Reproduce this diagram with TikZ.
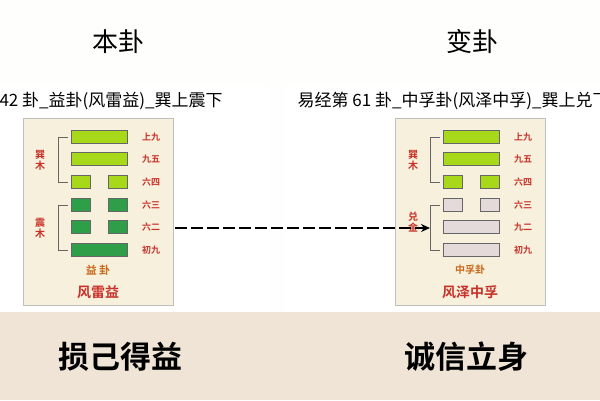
\documentclass[tikz,border=0pt]{standalone}
\usepackage{fontspec}
\newfontfamily\cjk{Noto Sans CJK SC}[BoldFont={Noto Sans CJK SC Bold}]
\newcommand\cjkb{\cjk\bfseries}
\usetikzlibrary{arrows.meta}
\definecolor{paper}{HTML}{EFE4D6}
\definecolor{card}{HTML}{F7F0DC}
\definecolor{lime}{HTML}{A8D81A}
\definecolor{leaf}{HTML}{2E9E48}
\definecolor{pale}{HTML}{E4DADA}
\definecolor{redtxt}{HTML}{C8322A}
\definecolor{browntxt}{HTML}{C86A1E}
\tikzset{
  yao/.style={draw=black!60,line width=0.6pt},
  yaolbl/.style={text=redtxt,font=\cjkb\fontsize{9}{9}\selectfont},
  sidelbl/.style={text=redtxt,font=\cjkb\fontsize{10}{11}\selectfont,align=center},
  bigtitle/.style={font=\cjk\fontsize{26}{26}\selectfont},
  caption/.style={font=\cjk\fontsize{17}{17}\selectfont,anchor=west},
  motto/.style={font=\cjkb\fontsize{31}{31}\selectfont}
}
% draw one hexagram: #1 = x of card left, #2 = list of line/colour
\newcommand\guaCard[2]{%
  \fill[card,draw=black!25] (#1,118) rectangle ++(150,187);
  \foreach \yy/\kind/\col/\lbl in {#2} {
    \ifnum\kind=1
      \fill[\col,yao] (#1+48,\yy-6.5) rectangle ++(56,13);
    \else
      \fill[\col,yao] (#1+48,\yy-6.5) rectangle ++(19,13);
      \fill[\col,yao] (#1+85,\yy-6.5) rectangle ++(19,13);
    \fi
    \node[yaolbl] at (#1+128,\yy) {\lbl};
  }
  \draw[black!60] (#1+45,137) -| (#1+35,182) -- (#1+45,182);
  \draw[black!60] (#1+45,205) -| (#1+35,250) -- (#1+45,250);
}
\begin{document}
\begin{tikzpicture}[x=1pt,y=-1pt]
\useasboundingbox (0,0) rectangle (600,400);
\fill[paper] (0,0) rectangle (600,400);
\fill[white!96!paper] (0,0) rectangle (600,85);
\fill[white] (0,85) rectangle (268,312);
\fill[white!97!paper] (268,85) rectangle (286,312);
\fill[white] (286,85) rectangle (600,312);
% titles
\node[bigtitle] (benT) at (118,42) {本卦};
\node[bigtitle] (bianT) at (472,42) {变卦};
\begin{scope}
\clip (0,85) rectangle (600,115);
\node[caption] (capL) at (-4,101) {42 卦\_益卦(风雷益)\_巽上震下};
\node[caption] (capR) at (294,101) {易经第 61 卦\_中孚卦(风泽中孚)\_巽上兑下};
\end{scope}
% left card
\guaCard{23}{137/1/lime/上九,159/1/lime/九五,182/0/lime/六四,205/0/leaf/六三,227/0/leaf/六二,250/1/leaf/初九}
\node[sidelbl] (xunL) at (40,160) {巽\\木};
\node[sidelbl] (zhenL) at (40,228) {震\\木};
\node[text=browntxt,font=\cjkb\fontsize{11}{11}\selectfont] (nameL) at (98,270) {益\ 卦};
\node[text=redtxt,font=\cjkb\fontsize{14}{14}\selectfont] (fullL) at (98,292) {风雷益};
% right card
\guaCard{395}{137/1/lime/上九,159/1/lime/九五,182/0/lime/六四,205/0/pale/六三,227/1/pale/九二,250/1/pale/初九}
\node[sidelbl] (xunR) at (413,160) {巽\\木};
\node[sidelbl] (duiR) at (413,222) {兑\\金};
\node[text=browntxt,font=\cjkb\fontsize{10}{10}\selectfont] (nameR) at (470,270) {中孚卦};
\node[text=redtxt,font=\cjkb\fontsize{14}{14}\selectfont] (fullR) at (470,292) {风泽中孚};
% change arrow
\coordinate (arrS) at (175,228);
\coordinate (arrE) at (430,228);
\draw[line width=2.2pt,dash pattern=on 12pt off 4pt,-{Stealth[length=9pt,width=8pt]}] (arrS) -- (arrE);
% mottos
\node[motto] (mL) at (120,357) {损己得益};
\node[motto] (mR) at (466,357) {诚信立身};
\end{tikzpicture}
\end{document}
